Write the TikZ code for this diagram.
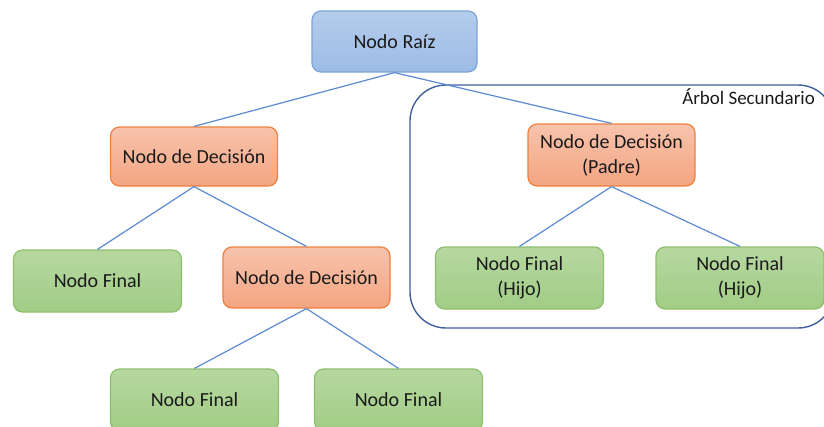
\documentclass[tikz,border=0pt]{standalone}
\usepackage{fontspec}
\setmainfont{Carlito}
\definecolor{lineblue}{HTML}{5B8AD3}
\definecolor{framebl}{HTML}{3F5F9E}
\definecolor{bluetop}{HTML}{B5CCEC}
\definecolor{bluebot}{HTML}{9CBCE6}
\definecolor{blueedge}{HTML}{7DA4D9}
\definecolor{orgtop}{HTML}{F7C3AD}
\definecolor{orgbot}{HTML}{F4A581}
\definecolor{orgedge}{HTML}{EE8040}
\definecolor{grntop}{HTML}{B6D8A0}
\definecolor{grnbot}{HTML}{A2CC86}
\definecolor{grnedge}{HTML}{8DC06C}
\definecolor{txt}{HTML}{1A1A1A}
\tikzset{
  box/.style={rectangle, rounded corners=9pt, line width=1.2pt, text=txt,
    font=\fontsize{20}{25}\selectfont, align=center, inner sep=0pt},
  rootbox/.style={box, draw=blueedge, top color=bluetop, bottom color=bluebot,
    minimum width=165pt, minimum height=61pt},
  decbox/.style={box, draw=orgedge, top color=orgtop, bottom color=orgbot,
    minimum width=167pt, minimum height=60pt},
  finbox/.style={box, draw=grnedge, top color=grntop, bottom color=grnbot,
    minimum width=168pt, minimum height=62pt},
  conn/.style={draw=lineblue, line width=1.2pt}
}
\begin{document}
\begin{tikzpicture}[x=1pt,y=-1pt]
\useasboundingbox (0,0) rectangle (824,426);
% secondary tree frame
\draw[framebl, line width=1.4pt, rounded corners=36pt] (410,85) rectangle (834,328);
\node[anchor=base east, font=\fontsize{19}{23}\selectfont, text=txt, inner sep=0pt] (lbl) at (815,104) {Árbol Secundario};

\node[rootbox] (root) at (394.5,41.5) {Nodo Raíz};
\node[decbox, minimum height=59pt] (dl) at (194,156.5) {Nodo de Decisión};
\node[decbox, minimum height=62pt] (dp) at (611.5,155) {Nodo de Decisión\\(Padre)};
\node[finbox] (fl) at (97.5,281) {Nodo Final};
\node[decbox, minimum height=61pt] (dm) at (306.5,277.5) {Nodo de Decisión};
\node[finbox] (fb1) at (194.5,400) {Nodo Final};
\node[finbox] (fb2) at (398.5,400) {Nodo Final};
\node[finbox] (h1) at (519.5,278) {Nodo Final\\(Hijo)};
\node[finbox] (h2) at (740,278) {Nodo Final\\(Hijo)};

\draw[conn] (root.south) -- (dl.north);
\draw[conn] (root.south) -- (dp.north);
\draw[conn] (dl.south) -- (fl.north);
\draw[conn] (dl.south) -- (dm.north);
\draw[conn] (dm.south) -- (fb1.north);
\draw[conn] (dm.south) -- (fb2.north);
\draw[conn] (dp.south) -- (h1.north);
\draw[conn] (dp.south) -- (h2.north);
\end{tikzpicture}
\end{document}
